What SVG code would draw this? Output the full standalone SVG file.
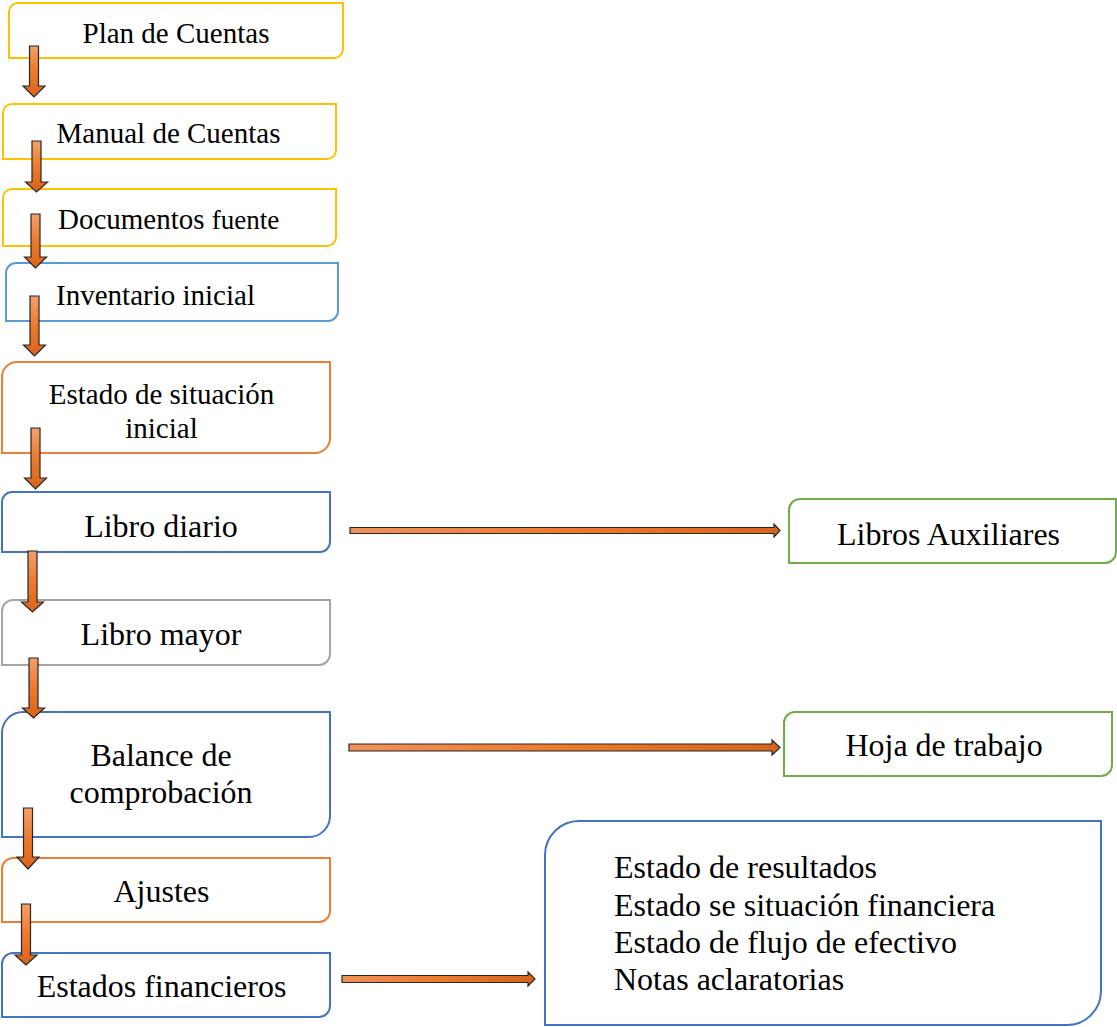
<svg xmlns="http://www.w3.org/2000/svg" width="1117" height="1027" viewBox="0 0 1117 1027">
<defs>
<linearGradient id="gv" x1="0" y1="0" x2="0" y2="1">
<stop offset="0" stop-color="#F3A06A"/><stop offset="0.5" stop-color="#EE7A2C"/><stop offset="1" stop-color="#D8641C"/>
</linearGradient>
<linearGradient id="gh" x1="0" y1="0" x2="1" y2="0">
<stop offset="0" stop-color="#F0915A"/><stop offset="0.5" stop-color="#EE7A2C"/><stop offset="1" stop-color="#D8641C"/>
</linearGradient>
<style>
.b{fill:#fff;stroke-width:2}
.y{stroke:#FFC000}.lb{stroke:#5B9BD5}.o{stroke:#ED7D31}.db{stroke:#4472C4}.g{stroke:#A5A5A5}.gr{stroke:#70AD47}
text{font-family:"Liberation Serif","Times New Roman",serif;fill:#000}
.s{font-size:29px}.m{font-size:32px}
.c{text-anchor:middle}
.av{fill:url(#gv);stroke:#262626;stroke-width:1.2;stroke-linejoin:miter}
.ah{fill:url(#gh);stroke:#262626;stroke-width:1.2;stroke-linejoin:miter}
</style>
</defs>
<rect width="1117" height="1027" fill="#fff"/>
<g id="plan">
<path class="b y" d="M18,3 H343 V49 A9,9 0 0 1 334,58 H9 V12 A9,9 0 0 1 18,3 Z"/>
<text class="s c" x="176" y="43">Plan de Cuentas</text>
</g>
<g id="manual">
<path class="b y" d="M12,104 H336 V150 A9,9 0 0 1 327,159 H3 V113 A9,9 0 0 1 12,104 Z"/>
<text class="s c" x="168.5" y="143">Manual de Cuentas</text>
</g>
<g id="documentos">
<path class="b y" d="M12,189 H336 V237 A9,9 0 0 1 327,246 H3 V198 A9,9 0 0 1 12,189 Z"/>
<text class="s" x="58" y="229">Documentos <tspan font-size="27">fuente</tspan></text>
</g>
<g id="inventario">
<path class="b lb" d="M16,263 H338 V311 A10,10 0 0 1 328,321 H6 V273 A10,10 0 0 1 16,263 Z"/>
<text class="s c" x="155.5" y="305">Inventario inicial</text>
</g>
<g id="estado-situacion">
<path class="b o" d="M17,362 H330 V438 A15,15 0 0 1 315,453 H2 V377 A15,15 0 0 1 17,362 Z"/>
<text class="s c" x="161.5" y="404">Estado de situación</text>
<text class="s c" x="161.5" y="438">inicial</text>
</g>
<g id="libro-diario">
<path class="b db" d="M12,492 H330 V542 A10,10 0 0 1 320,552 H2 V502 A10,10 0 0 1 12,492 Z"/>
<text class="m c" x="161" y="537">Libro diario</text>
</g>
<g id="libro-mayor">
<path class="b g" d="M13,600 H330 V654 A11,11 0 0 1 319,665 H2 V611 A11,11 0 0 1 13,600 Z"/>
<text class="m c" x="161" y="645">Libro mayor</text>
</g>
<g id="balance">
<path class="b db" d="M23,712 H330 V816 A21,21 0 0 1 309,837 H2 V733 A21,21 0 0 1 23,712 Z"/>
<text class="m c" x="161" y="766">Balance de</text>
<text class="m c" x="161" y="803">comprobación</text>
</g>
<g id="ajustes">
<path class="b o" d="M13,858 H330 V911 A11,11 0 0 1 319,922 H2 V869 A11,11 0 0 1 13,858 Z"/>
<text class="m c" x="161.5" y="902">Ajustes</text>
</g>
<g id="estados-financieros">
<path class="b db" d="M13,953 H330 V1006 A11,11 0 0 1 319,1017 H2 V964 A11,11 0 0 1 13,953 Z"/>
<text class="m c" x="161.5" y="997">Estados financieros</text>
</g>
<g id="libros-auxiliares">
<path class="b gr" d="M800,499 H1116 V552 A11,11 0 0 1 1105,563 H789 V510 A11,11 0 0 1 800,499 Z"/>
<text class="m c" x="948.5" y="545">Libros Auxiliares</text>
</g>
<g id="hoja-trabajo">
<path class="b gr" d="M795,712 H1112 V765 A11,11 0 0 1 1101,776 H784 V723 A11,11 0 0 1 795,712 Z"/>
<text class="m c" x="944" y="756">Hoja de trabajo</text>
</g>
<g id="lista-estados">
<path class="b db" d="M579,821 H1101 V991 A34,34 0 0 1 1067,1025 H545 V855 A34,34 0 0 1 579,821 Z"/>
<text class="m" x="614" y="878">Estado de resultados</text>
<text class="m" x="614" y="916">Estado se situación financiera</text>
<text class="m" x="614" y="953">Estado de flujo de efectivo</text>
<text class="m" x="614" y="990">Notas aclaratorias</text>
</g>
<g id="connectors">
<path class="av" d="M29.5,46 H38.5 V86 H45 L34,97 L23,86 H29.5 Z"/>
<path class="av" d="M32,141 H41 V182 H47.5 L36.5,192 L25.5,182 H32 Z"/>
<path class="av" d="M31,214 H40 V257 H46.5 L35.5,268 L24.5,257 H31 Z"/>
<path class="av" d="M30,296 H39 V345 H45.5 L34.5,356 L23.5,345 H30 Z"/>
<path class="av" d="M31,428 H40 V478 H46.5 L35.5,489 L24.5,478 H31 Z"/>
<path class="av" d="M28,551 H37 V602 H43.5 L32.5,612 L21.5,602 H28 Z"/>
<path class="av" d="M29,658 H38 V708 H44.5 L33.5,718 L22.5,708 H29 Z"/>
<path class="av" d="M23.5,808 H32.5 V857 H39 L28,869 L17,857 H23.5 Z"/>
<path class="av" d="M21.5,904 H30.5 V955 H37 L26,965 L15,955 H21.5 Z"/>
<path class="ah" d="M350,527.5 H774 V524 L780,530.5 L774,537 V533.5 H350 Z"/>
<path class="ah" d="M349,744 H772 V740 L780,747.5 L772,755 V751 H349 Z"/>
<path class="ah" d="M342,975.5 H528 V972 L535,979 L528,986 V982.5 H342 Z"/>
</g>
</svg>
